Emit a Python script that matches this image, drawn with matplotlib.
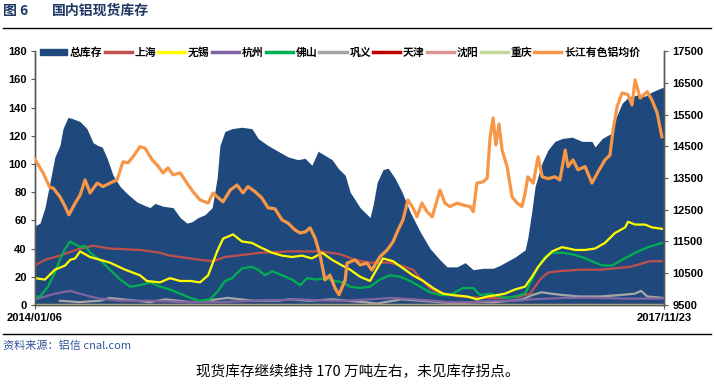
import matplotlib
matplotlib.use("Agg")
import matplotlib.pyplot as plt
from matplotlib.patches import Patch
from matplotlib.lines import Line2D

plt.rcParams['font.family'] = ['Liberation Sans', 'Noto Sans CJK SC', 'DejaVu Sans']

start_label = "2014/01/06"
end_label = "2017/11/23"
total_weeks = 202.4

# 总库存 (week index, 万吨)
total_w = [0, 1.6, 3.2, 4.8, 6.4, 8.0, 9.0, 10.6, 12.2, 14.5, 16.7, 18.7, 20.3, 21.6, 23.2, 25.1, 27.4, 29.6,
           32.8, 34.8, 37.0, 38.6, 41.2, 44.4, 46.7, 48.9, 50.5, 52.5, 54.7, 57.0, 58.6, 59.5, 61.1, 63.4, 66.6,
           69.8, 71.8, 75.0, 78.2, 81.4, 84.6, 86.9, 89.1, 91.1, 93.3, 95.6, 97.5, 99.8, 101.4, 104.6, 107.8,
           108.8, 110.1, 112.0, 113.6, 115.8, 118.1, 120.7, 123.9, 127.1, 130.3, 132.6, 135.8, 138.4, 141.0,
           144.2, 147.4, 149.6, 151.2, 154.5, 157.7, 158.6, 159.9, 160.9, 163.2, 165.1, 167.3, 169.6, 172.8,
           176.0, 179.2, 180.2, 182.5, 185.7, 186.6, 188.9, 190.8, 194.0, 196.3, 198.5, 201.7, 202.4]
total_v = [56, 58, 69, 87, 105, 113, 125, 133, 132, 130, 125, 115, 113, 112, 104, 92, 84, 79,
           73, 71, 69, 72, 70, 69, 62, 58, 59, 62, 64, 69, 90, 113, 123, 125, 126,
           125, 118, 113, 109, 105, 103, 104, 99, 109, 106, 103, 97, 92, 80, 69, 62,
           71, 87, 96, 97, 90, 80, 66, 52, 40, 32, 27, 27, 30, 25,
           26, 26, 28, 30, 34, 39, 48, 67, 84, 101, 110, 116, 118, 119,
           116, 116, 112, 118, 122, 131, 143, 147, 149, 148, 151, 154, 154]

# 上海
sh_w = [0, 3.2, 8.0, 14.5, 18.7, 24.1, 33.8, 40.2, 43.4, 46.7, 53.1, 57.3, 61.1, 65.0, 72.4, 82.1, 91.7,
        98.1, 103.0, 107.8, 114.2, 117.5, 121.6, 123.9, 127.1, 130.3, 136.8, 143.2, 149.6, 156.1, 159.3,
        162.5, 165.1, 168.9, 175.4, 181.8, 191.5, 197.9, 201.7]
sh_v = [28, 32, 35, 40, 42, 40, 39, 37, 35, 34, 32, 31, 34, 35, 37, 38, 38,
        36, 32, 30, 30, 28, 25, 19, 12, 8, 6, 5, 5, 6, 8,
        18, 23, 24, 25, 25, 27, 31, 31]

# 无锡
wx_w = [0, 3.2, 6.4, 9.7, 11.3, 12.9, 14.5, 17.7, 20.9, 24.1, 29.0, 33.8, 36.0, 40.2, 43.4, 46.7, 49.9,
        53.1, 55.7, 58.6, 60.5, 63.7, 66.6, 69.8, 72.4, 76.3, 79.5, 82.7, 85.9, 89.1, 92.4, 95.6, 98.8,
        101.4, 104.6, 107.8, 110.1, 112.0, 115.2, 118.4, 121.6, 124.9, 128.1, 131.3, 134.5, 139.0, 142.2,
        145.5, 148.7, 151.2, 154.5, 157.7, 159.9, 161.9, 164.1, 166.4, 169.6, 173.8, 177.0, 180.2, 183.4,
        186.6, 189.9, 190.8, 193.1, 196.3, 198.5, 201.7]
wx_v = [19, 18, 25, 28, 32, 33, 38, 34, 32, 30, 25, 21, 17, 16, 19, 17, 17,
        16, 21, 38, 47, 50, 45, 44, 41, 37, 35, 34, 35, 33, 37, 32, 28,
        25, 20, 17, 26, 33, 31, 26, 21, 17, 12, 8, 7, 6, 4,
        6, 7, 8, 11, 13, 20, 27, 33, 38, 41, 39, 39, 40, 44,
        51, 55, 59, 57, 57, 55, 54]

# 杭州
hz_w = [0, 3.2, 6.4, 11.3, 14.5, 17.7, 20.9, 27.4, 37.0, 48, 60, 70, 80, 85, 95, 100, 108, 115, 122, 128,
        133, 140, 148, 155, 160, 170, 180, 190, 200, 202]
hz_v = [4, 6, 8, 10, 8, 6, 4.5, 3, 3, 2, 2, 3, 3.5, 4, 3, 3, 4, 5, 4, 3,
        2, 2, 3, 3, 4, 5, 5, 4.5, 4.5, 4.5]

# 佛山
fs_w = [0, 1.6, 4.2, 6.4, 8.0, 9.7, 11.3, 12.9, 14.5, 16.1, 17.7, 20.9, 24.1, 27.4, 30.6, 33.8, 37.0, 40.2,
        43.4, 46.7, 49.9, 53.1, 56.3, 58.9, 61.1, 63.4, 66.6, 69.8, 71.8, 74.0, 76.3, 79.5, 82.7, 85.3, 87.5,
        90.7, 93.3, 96.5, 99.1, 101.4, 104.6, 107.8, 111.0, 114.2, 117.5, 120.7, 123.9, 127.1, 130.3, 133.5,
        137.7, 141.0, 143.2, 146.4, 149.6, 151.2, 154.5, 157.7, 159.9, 161.9, 164.1, 166.4, 169.6, 172.8,
        176.0, 179.2, 182.5, 185.7, 188.9, 193.1, 197.3, 201.7]
fs_v = [6, 6, 13, 23, 32, 40, 45, 43, 41, 42, 37, 32, 25, 18, 13, 14, 16, 13,
        11, 8, 5, 3, 4, 10, 17, 19, 26, 27, 25, 21, 24, 21, 18, 14, 19,
        18, 19, 17, 16, 13, 12, 13, 18, 21, 20, 17, 13, 9, 7, 7,
        12, 12, 7, 8, 6, 5, 6, 8, 18, 27, 34, 37, 37, 36,
        34, 31, 28, 28, 32, 37, 41, 44]

# 巩义
gy_w = [8, 14, 21, 24, 28, 37, 42, 50, 55, 62, 70, 78, 82, 88, 96, 100, 106, 110, 118, 124, 130, 136, 142,
        148, 153, 157, 160, 163, 166, 170, 175, 182, 188, 193, 195, 197, 202]
gy_v = [3, 2, 3, 5, 4, 2, 4, 2, 3, 5, 3, 3, 4, 3, 4, 3, 2, 1, 4, 3, 2, 1, 2,
        2, 3, 4, 7, 9, 8, 7, 6, 6, 7, 8, 10, 6, 5]

# 天津 / 沈阳 / 重庆 (near zero)
tj_w = [0, 202.4]
tj_v = [0, 0]
sy_w = [0, 202.4]
sy_v = [0, 0]
cq_w = [0, 202.4]
cq_v = [0, 0]

# 长江有色铝均价 (元/吨)
cj_w = [0, 2.6, 4.8, 5.8, 8.0, 9.7, 10.9, 12.9, 14.5, 16.1, 17.7, 20.0, 21.9, 24.1, 26.4, 28.3, 29.9, 31.5,
        33.8, 35.4, 37.7, 39.3, 41.2, 42.8, 44.4, 46.7, 48.9, 50.8, 53.1, 55.7, 57.3, 58.6, 60.5, 62.8, 65.0,
        66.9, 68.5, 70.8, 73.0, 75.0, 77.2, 79.5, 81.4, 83.7, 85.3, 86.9, 88.5, 90.1, 91.7, 93.3, 94.9, 96.5,
        97.8, 99.8, 100.4, 103.0, 104.6, 106.8, 108.4, 111.0, 113.3, 115.2, 116.8, 118.4, 120.0, 121.6, 122.9,
        124.5, 126.1, 127.8, 129.4, 130.3, 131.9, 133.5, 135.8, 137.7, 140.0, 141.0, 142.2, 144.2, 145.5,
        146.4, 147.4, 148.3, 149.3, 150.3, 151.9, 153.5, 155.1, 156.7, 157.7, 158.6, 160.3, 161.9, 163.2,
        165.1, 167.3, 168.9, 170.6, 171.5, 173.1, 174.7, 177.0, 179.2, 181.2, 183.4, 185.0, 186.0, 187.3,
        188.9, 190.8, 192.1, 193.1, 194.7, 197.0, 198.5, 200.2, 201.7]
cj_v = [14080, 13660, 13190, 13190, 12910, 12600, 12340, 12710, 12960, 13440, 13030, 13340, 13230, 13340, 13440,
        14010, 13980, 14170, 14490, 14440, 14070, 13910, 13660, 13820, 13600, 13660, 13340, 13070, 12810, 12710,
        13030, 12910, 12750, 13120, 13280, 13030, 13230, 13070, 12870, 12560, 12530, 12180, 12080, 11860, 11770,
        11800, 11930, 11610, 11080, 10290, 10440, 10040, 9820, 10290, 10820, 10920, 10760, 10820, 10600, 11020,
        11230, 11490, 11860, 12180, 12810, 12560, 12280, 12710, 12440, 12280, 12810, 13120, 12710, 12600, 12710,
        12650, 12600, 12440, 13340, 13380, 13500, 14760, 15390, 14540, 15200, 14380, 13860, 12910, 12710, 12600,
        13030, 13540, 13340, 14170, 13540, 13480, 13540, 13440, 14380, 13860, 14070, 13760, 13860, 13340, 13700,
        14070, 14220, 15010, 15750, 16180, 16130, 15800, 16590, 16020, 16220, 15960, 15550, 14800]

left_ticks = [0, 20, 40, 60, 80, 100, 120, 140, 160, 180]
right_ticks = [9500, 10500, 11500, 12500, 13500, 14500, 15500, 16500, 17500]

c_total = '#1F497D'
c_sh = '#C0504D'
c_wx = '#FFFF00'
c_hz = '#8064A2'
c_fs = '#00B050'
c_gy = '#A6A6A6'
c_tj = '#C00000'
c_sy = '#D99694'
c_cq = '#C3D69B'
c_cj = '#F79646'

fig = plt.figure(figsize=(7.15, 3.87), dpi=100)
ax = fig.add_axes([0.049, 0.212, 0.8797, 0.656])
ax2 = ax.twinx()

ax.fill_between(total_w, total_v, 0, color=c_total, lw=0, zorder=1)
lw = 1.6
ax.plot(gy_w, gy_v, color=c_gy, lw=lw, zorder=2)
ax.plot(hz_w, hz_v, color=c_hz, lw=lw, zorder=2)
ax.plot(sh_w, sh_v, color=c_sh, lw=lw, zorder=3)
ax.plot(fs_w, fs_v, color=c_fs, lw=lw, zorder=3)
ax.plot(wx_w, wx_v, color=c_wx, lw=lw, zorder=4)
ax.plot(tj_w, tj_v, color=c_tj, lw=lw, zorder=2)
ax.plot(sy_w, sy_v, color=c_sy, lw=lw, zorder=2)
ax.plot(cq_w, cq_v, color=c_cq, lw=lw, zorder=2)
ax2.plot(cj_w, cj_v, color=c_cj, lw=2.3, zorder=5)

ax.set_xlim(0, total_weeks)
ax.set_ylim(0, 180)
ax2.set_ylim(9500, 17500)
ax.set_yticks(left_ticks)
ax2.set_yticks(right_ticks)
ax.set_xticks([0, total_weeks])
ax.set_xticklabels([start_label, end_label], fontsize=8, fontweight='bold')
ax.tick_params(axis='x', length=3, pad=3, color='#595959')
ax.tick_params(axis='y', length=3, pad=3, labelsize=8, color='#595959')
ax2.tick_params(axis='y', length=3, pad=3, labelsize=8, color='#595959')
for lab in ax.get_yticklabels() + ax2.get_yticklabels():
    lab.set_fontweight('bold')
for a in (ax, ax2):
    a.spines['top'].set_visible(False)
    for s in ('left', 'right', 'bottom'):
        a.spines[s].set_color('#595959')
        a.spines[s].set_linewidth(1.0)

handles = [Patch(facecolor=c_total, edgecolor=c_total),
           Line2D([], [], color=c_sh, lw=2.5), Line2D([], [], color=c_wx, lw=2.5),
           Line2D([], [], color=c_hz, lw=2.5), Line2D([], [], color=c_fs, lw=2.5),
           Line2D([], [], color=c_gy, lw=2.5), Line2D([], [], color=c_tj, lw=2.5),
           Line2D([], [], color=c_sy, lw=2.5), Line2D([], [], color=c_cq, lw=2.5),
           Line2D([], [], color=c_cj, lw=2.5)]
labels = ['总库存', '上海', '无锡', '杭州', '佛山', '巩义', '天津', '沈阳', '重庆', '长江有色铝均价']
leg = ax2.legend(handles, labels, ncol=10, loc='center left', bbox_to_anchor=(0.008, 0.995),
                 frameon=False, handlelength=2.5, handleheight=0.45, handletextpad=0.25,
                 columnspacing=0.2, borderaxespad=0, borderpad=0,
                 prop={'weight': 'bold', 'size': 7.8, 'family': ['Noto Sans CJK SC', 'DejaVu Sans']})
leg.set_zorder(10)

# header / footer
fig.text(0.004, 0.972, '图 6', fontsize=10, fontweight='bold', color='#1F3864', va='center',
         family=['Noto Sans CJK SC', 'DejaVu Sans'])
fig.text(0.073, 0.972, '国内铝现货库存', fontsize=10, fontweight='bold', color='#1F3864', va='center',
         family=['Noto Sans CJK SC', 'DejaVu Sans'])
fig.add_artist(Line2D([0.004, 0.995], [0.928, 0.928], color='black', lw=1.0, transform=fig.transFigure))
fig.add_artist(Line2D([0.004, 0.995], [0.137, 0.137], color='black', lw=1.0, transform=fig.transFigure))
fig.text(0.004, 0.107, '资料来源：铝信 cnal.com', fontsize=8, style='italic', color='#2F5597', va='center',
         family=['Noto Sans CJK SC', 'DejaVu Sans'])
fig.text(0.5, 0.04, '现货库存继续维持 170 万吨左右，未见库存拐点。', fontsize=10.5, color='black',
         va='center', ha='center', family=['Noto Sans CJK SC', 'DejaVu Sans'])

fig.savefig('out.png', dpi=100)
